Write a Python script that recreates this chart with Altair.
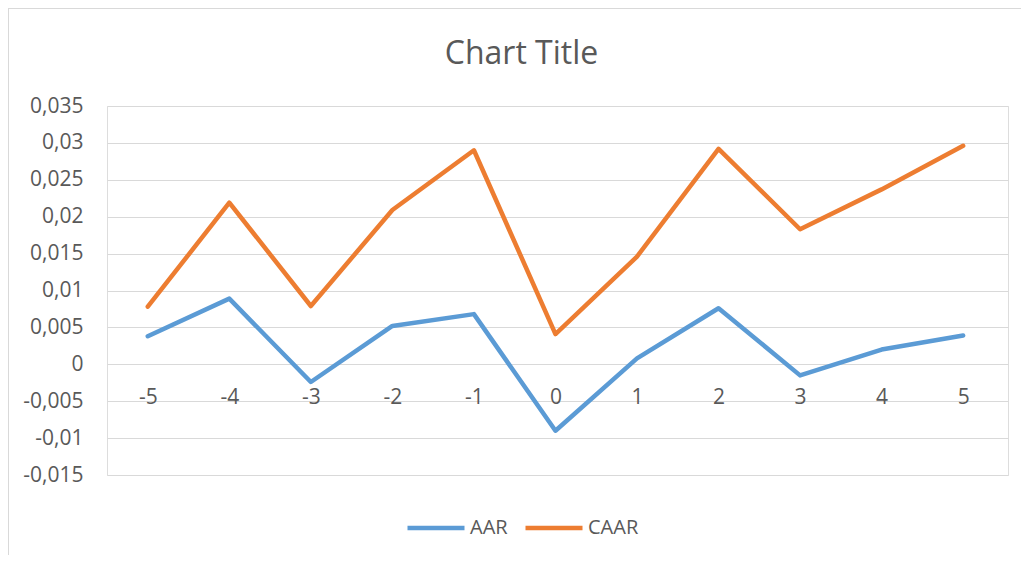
import altair as alt
import pandas as pd

events = [-5, -4, -3, -2, -1, 0, 1, 2, 3, 4, 5]
aar = [0.0038, 0.0089, -0.0024, 0.0052, 0.0068, -0.0090, 0.0008, 0.0076, -0.0015, 0.0020, 0.0039]
caar = [0.0078, 0.0219, 0.0079, 0.0209, 0.0290, 0.0041, 0.0146, 0.0292, 0.0183, 0.0237, 0.0296]
series_names = ["AAR", "CAAR"]
series_colors = ["#5B9BD5", "#ED7D31"]
y_ticks = [-0.015, -0.01, -0.005, 0, 0.005, 0.01, 0.015, 0.02, 0.025, 0.03, 0.035]

rows = []
for e, a in zip(events, aar):
    rows.append({"event": e, "value": a, "series": "AAR"})
for e, c in zip(events, caar):
    rows.append({"event": e, "value": c, "series": "CAAR"})
df = pd.DataFrame(rows)

FONT = "Open Sans"
TXT = "#595959"

lines = alt.Chart(df).mark_line(strokeWidth=4.5, strokeCap="round", strokeJoin="round").encode(
    x=alt.X("event:Q",
            scale=alt.Scale(domain=[-5.5, 5.55], nice=False, zero=False),
            axis=alt.Axis(values=events, labelExpr="toString(datum.value)", grid=False,
                          ticks=False, domain=False, title=None, offset=-111,
                          labelPadding=22, labelFontSize=21, labelFont=FONT,
                          labelColor=TXT)),
    y=alt.Y("value:Q",
            scale=alt.Scale(domain=[-0.015, 0.035], nice=False, zero=False),
            axis=alt.Axis(values=y_ticks, labelExpr="replace(toString(datum.value), '.', ',')",
                          grid=True, gridColor="#D9D9D9", gridWidth=1.2, ticks=False,
                          domain=False, title=None, labelPadding=24, labelFontSize=21,
                          labelFont=FONT, labelColor=TXT)),
    color=alt.Color("series:N",
                    scale=alt.Scale(domain=series_names, range=series_colors),
                    legend=alt.Legend(title=None, orient="none", direction="horizontal",
                                      legendX=298, legendY=391, symbolType="stroke",
                                      symbolSize=3249, symbolStrokeWidth=4.5,
                                      labelFontSize=20, labelFont=FONT, labelColor=TXT,
                                      labelOffset=3, columnPadding=8)),
    order="event:Q",
)

border = alt.Chart(pd.DataFrame({"v": [0]})).mark_rule(color="#D9D9D9", strokeWidth=1).encode(
    x=alt.value(-98.5), y=alt.value(-98), y2=alt.value(460)
)
border_top = alt.Chart(pd.DataFrame({"v": [0]})).mark_rule(color="#D9D9D9", strokeWidth=1).encode(
    x=alt.value(-98.5), x2=alt.value(915), y=alt.value(-97.5)
)

chart = alt.layer(border, border_top, lines).properties(
    width=901, height=369,
    title=alt.TitleParams("Chart Title", fontSize=32, font=FONT, fontWeight="normal",
                          color=TXT, anchor="middle", dx=-36, offset=-88,
                          baseline="alphabetic"),
    autosize=alt.AutoSizeParams(type="none"),
    padding={"left": 99, "top": 98, "right": 13, "bottom": 80},
).configure_view(stroke=None).configure(background="white")

chart.save("out.html", embed_options={"renderer": "svg", "actions": False})
